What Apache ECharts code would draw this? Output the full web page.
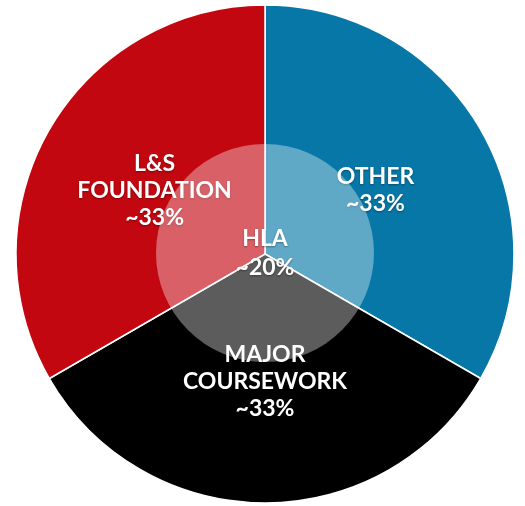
<!DOCTYPE html>
<html>
<head>
<meta charset="utf-8">
<script src="https://cdn.jsdelivr.net/npm/echarts@6/dist/echarts.min.js"></script>
<style>
html,body{margin:0;padding:0;background:#fff;}
#chart{width:525px;height:506px;}
</style>
</head>
<body>
<div id="chart"></div>
<script>
const categories = ['OTHER', 'MAJOR\nCOURSEWORK', 'L&S\nFOUNDATION'];
const values = [33, 33, 33];
const colors = ['#0677A6', '#000000', '#C20710'];
const innerName = 'HLA';
const innerValue = 20;

const chart = echarts.init(document.getElementById('chart'));
const labelStyle = {
  color: '#fff',
  fontFamily: 'Lato',
  fontWeight: 'bold',
  fontSize: 23,
  lineHeight: 27,
  textShadowColor: 'rgba(0,0,0,0.35)',
  textShadowBlur: 2,
  textShadowOffsetY: 1
};
chart.setOption({
  animation: false,
  series: [
    {
      type: 'pie',
      center: [265, 254],
      radius: [0, 249],
      startAngle: 90,
      clockwise: true,
      silent: true,
      itemStyle: { borderColor: '#fff', borderWidth: 1.5 },
      label: Object.assign({ position: 'inside', formatter: p => p.name + '\n~' + p.value + '%' }, labelStyle),
      labelLine: { show: false },
      data: categories.map((c, i) => ({ name: c, value: values[i], itemStyle: { color: colors[i] } }))
    },
    {
      type: 'pie',
      center: [265, 253],
      radius: [0, 109],
      silent: true,
      z: 5,
      itemStyle: { color: 'rgba(255,255,255,0.36)', borderWidth: 0 },
      label: Object.assign({ position: 'center', formatter: p => p.name + '\n~' + p.value + '%' }, labelStyle, { lineHeight: 29 }),
      labelLine: { show: false },
      data: [{ name: innerName, value: innerValue }]
    }
  ]
});
</script>
</body>
</html>
